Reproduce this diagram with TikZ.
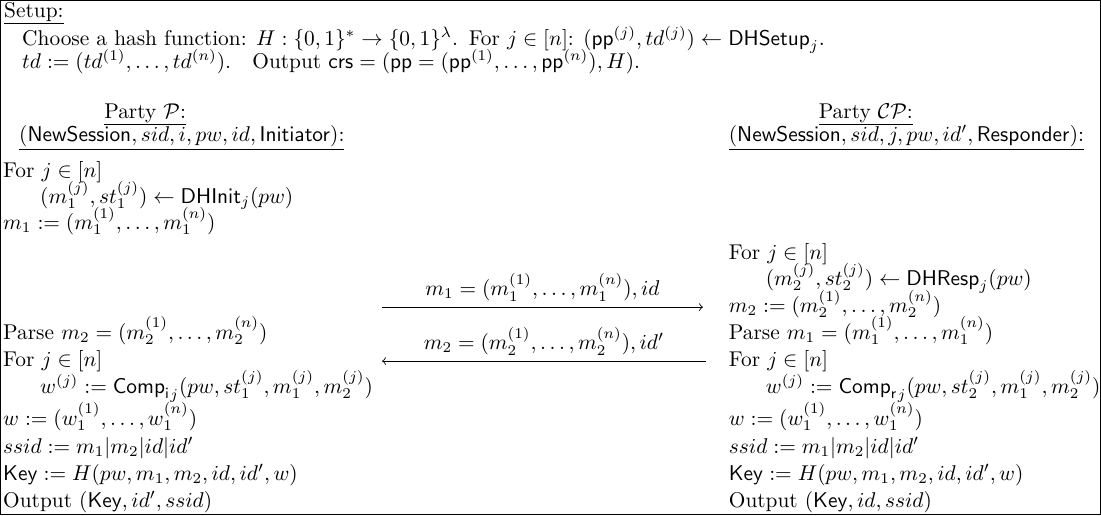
\documentclass[tikz,border=0pt]{standalone}
\usepackage{amsmath,amssymb}
\begin{document}
\begin{tikzpicture}[x=0.468pt,y=-0.468pt,
  txt/.style={anchor=base west,inner sep=0pt,outer sep=0pt},
  ctxt/.style={anchor=base,inner sep=0pt,outer sep=0pt},
  msg/.style={->,line width=0.4pt}]
\draw[line width=0.7pt] (0.5,0.5) rectangle (1100.5,514.5);
% setup
\node[txt] (setup) at (4,17) {Setup:};
\draw ([yshift=-2.8pt]setup.base west) -- ([yshift=-2.8pt]setup.base east);
\node[txt] (l1) at (22,45) {Choose a hash function: $H:\{0,1\}^*\to\{0,1\}^\lambda$.\enspace For $j\in[n]$: $(\mathsf{pp}^{(j)},td^{(j)})\leftarrow\mathsf{DHSetup}_j$.};
\node[txt] (l2) at (22,68) {$td:=(td^{(1)},\dots,td^{(n)})$.\quad Output $\mathsf{crs}=(\mathsf{pp}=(\mathsf{pp}^{(1)},\dots,\mathsf{pp}^{(n)}),H)$.};
% headers
\node[ctxt] (hp) at (145,118) {Party $\mathcal{P}$:};
\draw ([yshift=-2.8pt]hp.base west) -- ([yshift=-2.8pt]hp.base east);
\node[txt] (hpa) at (19,141) {$(\mathsf{NewSession},sid,i,pw,id,\mathsf{Initiator})$:};
\draw ([yshift=-3.7pt]hpa.base west) -- ([yshift=-3.7pt]hpa.base east);
\node[ctxt] (hc) at (866,118) {Party $\mathcal{CP}$:};
\draw ([yshift=-2.8pt]hc.base west) -- ([yshift=-2.8pt]hc.base east);
\node[txt] (hca) at (729,141) {$(\mathsf{NewSession},sid,j,pw,id',\mathsf{Responder})$:};
\draw ([yshift=-3.7pt]hca.base west) -- ([yshift=-3.7pt]hca.base east);
% left column
\node[txt] (a1) at (3,177) {For $j\in[n]$};
\node[txt] (a2) at (40,203) {$(m_1^{(j)},st_1^{(j)})\leftarrow\mathsf{DHInit}_j(pw)$};
\node[txt] (a3) at (3,229) {$m_1:=(m_1^{(1)},\dots,m_1^{(n)})$};
\node[txt] (a4) at (3,339) {Parse $m_2=(m_2^{(1)},\dots,m_2^{(n)})$};
\node[txt] (a5) at (3,366) {For $j\in[n]$};
\node[txt] (a6) at (40,393) {$w^{(j)}:={\mathsf{Comp}_{\mathsf{i}}}_j(pw,st_1^{(j)},m_1^{(j)},m_2^{(j)})$};
\node[txt] (a7) at (3,425) {$w:=(w_1^{(1)},\dots,w_1^{(n)})$};
\node[txt] (a8) at (3,453) {$ssid:=m_1|m_2|id|id'$};
\node[txt] (a9) at (3,480) {$\mathsf{Key}:=H(pw,m_1,m_2,id,id',w)$};
\node[txt] (a10) at (3,507) {Output $(\mathsf{Key},id',ssid)$};
% right column
\node[txt] (b1) at (729,259) {For $j\in[n]$};
\node[txt] (b2) at (766,285) {$(m_2^{(j)},st_2^{(j)})\leftarrow\mathsf{DHResp}_j(pw)$};
\node[txt] (b3) at (729,312) {$m_2:=(m_2^{(1)},\dots,m_2^{(n)})$};
\node[txt] (b4) at (729,339) {Parse $m_1=(m_1^{(1)},\dots,m_1^{(n)})$};
\node[txt] (b5) at (729,366) {For $j\in[n]$};
\node[txt] (b6) at (766,393) {$w^{(j)}:={\mathsf{Comp}_{\mathsf{r}}}_j(pw,st_2^{(j)},m_1^{(j)},m_2^{(j)})$};
\node[txt] (b7) at (729,425) {$w:=(w_1^{(1)},\dots,w_1^{(n)})$};
\node[txt] (b8) at (729,453) {$ssid:=m_1|m_2|id|id'$};
\node[txt] (b9) at (729,480) {$\mathsf{Key}:=H(pw,m_1,m_2,id,id',w)$};
\node[txt] (b10) at (729,507) {Output $(\mathsf{Key},id,ssid)$};
% messages
\coordinate (m1s) at (382,307);
\coordinate (m1e) at (703,307);
\coordinate (m2s) at (706,361);
\coordinate (m2e) at (382,361);
\draw[msg] (m1s) -- node[above=1.5pt,inner sep=1pt] (lab1) {$m_1=(m_1^{(1)},\dots,m_1^{(n)}),id$} (m1e);
\draw[msg] (m2s) -- node[above=1.5pt,inner sep=1pt] (lab2) {$m_2=(m_2^{(1)},\dots,m_2^{(n)}),id'$} (m2e);
\end{tikzpicture}
\end{document}
